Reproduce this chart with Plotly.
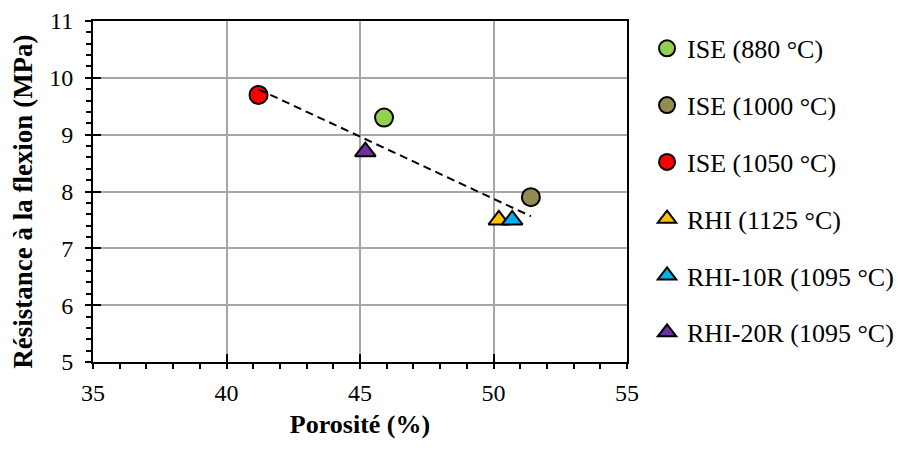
import numpy as np
import plotly.graph_objects as go

# ---- data ----
series_names = ["ISE (880 °C)", "ISE (1000 °C)", "ISE (1050 °C)",
                "RHI (1125 °C)", "RHI-10R (1095 °C)", "RHI-20R (1095 °C)"]
porosity = [45.9, 51.4, 41.2, 50.2, 50.7, 45.2]
strength = [9.3, 7.9, 9.7, 7.5, 7.5, 8.7]
symbols = ["circle", "circle", "circle", "triangle-up", "triangle-up", "triangle-up"]
colors = ["#92D050", "#948A54", "#FF0000", "#FFC000", "#00B0F0", "#7030A0"]

x_ticks = [35, 40, 45, 50, 55]
y_ticks = [5, 6, 7, 8, 9, 10, 11]

FONT = "Times New Roman, Liberation Serif, serif"

fig = go.Figure()

# linear trend line over all points
slope, intercept = np.polyfit(porosity, strength, 1)
xt = [min(porosity), max(porosity)]
yt = [slope * v + intercept for v in xt]
fig.add_trace(go.Scatter(x=xt, y=yt, mode="lines", showlegend=False,
                         line=dict(color="black", width=2, dash="8px,5px"),
                         hoverinfo="skip", xaxis="x2", yaxis="y2"))

for i, name in enumerate(series_names):
    fig.add_trace(go.Scatter(
        x=[porosity[i]], y=[strength[i]], mode="markers", name=name,
        legendgroup=f"g{i}",
        marker=dict(symbol=symbols[i], size=18, color=colors[i],
                    line=dict(color="black", width=2)),
    ))

grid = "#A6A6A6"
fig.update_layout(
    width=894, height=442,
    margin=dict(l=85, r=275, t=13, b=88, autoexpand=False),
    paper_bgcolor="white", plot_bgcolor="white",
    font=dict(family=FONT, size=24, color="black"),
    showlegend=True,
    legend=dict(xref="container", yref="container",
                x=0.7148, xanchor="left", y=0.9618, yanchor="top",
                font=dict(family=FONT, size=26, color="black"),
                tracegroupgap=20, itemwidth=30, maxheight=440,
                bgcolor="rgba(0,0,0,0)"),
    xaxis=dict(range=[35, 55], tickvals=x_ticks, ticks="outside", ticklen=5,
               tickwidth=2, tickcolor="black", ticklabelstandoff=3,
               automargin=False,
               minor=dict(dtick=1, ticks="outside", ticklen=5, tickwidth=2,
                          tickcolor="black", showgrid=False),
               showline=True, linecolor="black", linewidth=2, mirror=True,
               showgrid=True, gridcolor=grid, gridwidth=1.5, zeroline=False,
               title=dict(text="<b>Porosité (%)</b>", standoff=10,
                          font=dict(family=FONT, size=26))),
    yaxis=dict(range=[5, 11], tickvals=y_ticks, ticks="outside", ticklen=6,
               tickwidth=2, tickcolor="black", ticklabelstandoff=7,
               automargin=False,
               minor=dict(dtick=0.2, ticks="outside", ticklen=5, tickwidth=2,
                          tickcolor="black", showgrid=False),
               showline=True, linecolor="black", linewidth=2, mirror=True,
               showgrid=True, gridcolor=grid, gridwidth=1.5, zeroline=False,
               title=dict(text="<b>Résistance à la flexion (MPa)\u00a0\u00a0\u00a0</b>",
                          standoff=12, font=dict(family=FONT, size=27))),
    xaxis2=dict(range=[35, 55], overlaying="x", anchor="y2", side="bottom",
                tickvals=x_ticks, ticks="inside", ticklen=8, tickwidth=2,
                tickcolor="black", showticklabels=False, showgrid=False,
                zeroline=False, showline=False, automargin=False),
    yaxis2=dict(range=[5, 11], overlaying="y", anchor="x2", side="left",
                tickvals=y_ticks, ticks="inside", ticklen=8, tickwidth=2,
                tickcolor="black", showticklabels=False, showgrid=False,
                zeroline=False, showline=False, automargin=False),
)

fig.write_html("out.html")
